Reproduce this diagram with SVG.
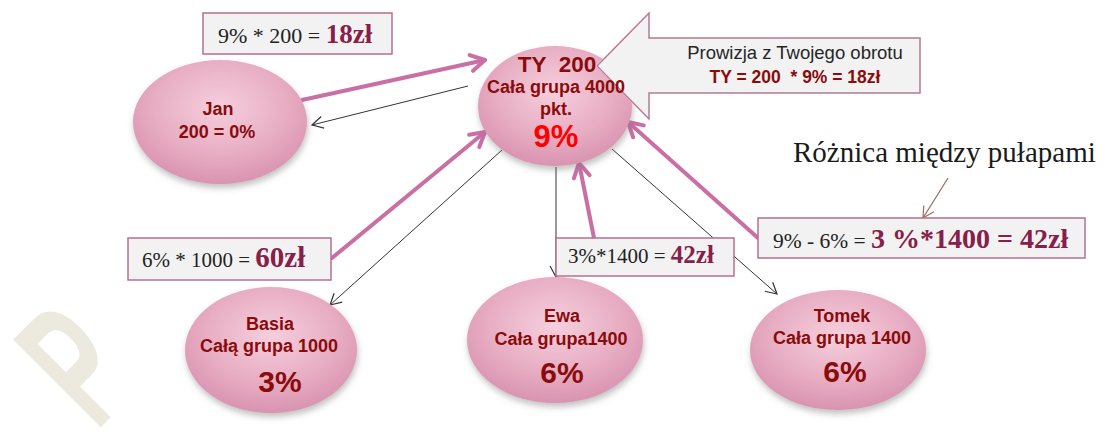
<svg xmlns="http://www.w3.org/2000/svg" width="1110" height="441" viewBox="0 0 1110 441">
<style>
.nt{font-family:"Liberation Sans",Arial,sans-serif;font-weight:bold;fill:#8a0b0b;text-anchor:middle}
.bt{font-family:"Liberation Serif","Times New Roman",serif;fill:#222;}
.bb{font-weight:bold;fill:#86204a}
.box{fill:#f2f2f2;stroke:#b5708f;stroke-width:1.5}
.pk{fill:none;stroke:#c96fa3;stroke-width:4;stroke-linecap:round}
.bk{fill:none;stroke:#333;stroke-width:1}
.ell{fill:url(#eg);filter:url(#sh)}
</style>
<defs>
<radialGradient id="eg" cx="50%" cy="38%" r="62%">
<stop offset="0" stop-color="#f5cfdd"/>
<stop offset="0.6" stop-color="#e8aec3"/>
<stop offset="1" stop-color="#d993b0"/>
</radialGradient>
<filter id="sh" x="-20%" y="-20%" width="140%" height="150%">
<feDropShadow dx="1" dy="4" stdDeviation="3" flood-color="#777" flood-opacity="0.45"/>
</filter>
<marker id="pa" viewBox="0 0 20 20" refX="18" refY="10" markerWidth="20" markerHeight="20" markerUnits="userSpaceOnUse" orient="auto" overflow="visible">
<path d="M4,2 L18,10 L4,18" fill="none" stroke="#c96fa3" stroke-width="4" stroke-linecap="round" stroke-linejoin="round"/>
</marker>
<marker id="ba" viewBox="0 0 14 14" refX="13" refY="7" markerWidth="14" markerHeight="14" markerUnits="userSpaceOnUse" orient="auto" overflow="visible">
<path d="M2,1 L13,7 L2,13" fill="none" stroke="#333" stroke-width="1.2"/>
</marker>
<marker id="ra" viewBox="0 0 14 14" refX="13" refY="7" markerWidth="14" markerHeight="14" markerUnits="userSpaceOnUse" orient="auto" overflow="visible">
<path d="M2,1 L13,7 L2,13" fill="none" stroke="#9b6b5b" stroke-width="1.2"/>
</marker>
<clipPath id="tyclip">
<path clip-rule="evenodd" d="M0,0 H1110 V441 H0 Z M596,66 L649,12 L649,37 L921,37 L921,94 L649,94 L649,120 Z"/>
</clipPath>
</defs>

<g id="watermark">
<text transform="translate(96 432) rotate(-45) scale(0.55 1)" font-family="Liberation Sans,Arial,sans-serif" font-weight="bold" font-size="180" fill="#ece9df">P</text>
</g>

<g id="connectors">
<line class="pk" x1="302" y1="100" x2="485" y2="60" marker-end="url(#pa)"/>
<line class="pk" x1="332" y1="258" x2="485" y2="132" marker-end="url(#pa)"/>
<line class="pk" x1="594" y1="238" x2="579" y2="163" marker-end="url(#pa)"/>
<line class="pk" x1="758" y1="238" x2="628" y2="122" marker-end="url(#pa)"/>
<line class="bk" x1="468" y1="86" x2="312" y2="125" marker-end="url(#ba)"/>
<line class="bk" x1="502" y1="150" x2="330" y2="305" marker-end="url(#ba)"/>
<line class="bk" x1="556" y1="167" x2="556" y2="277" marker-end="url(#ba)"/>
<line class="bk" x1="612" y1="149" x2="777" y2="294" marker-end="url(#ba)"/>
<line x1="948" y1="178" x2="923" y2="218" stroke="#9b6b5b" stroke-width="1.2" marker-end="url(#ra)"/>
</g>

<g id="node-jan">
<ellipse class="ell" cx="220" cy="122" rx="87" ry="62"/>
<text class="nt" font-size="18" x="218" y="115">Jan</text>
<text class="nt" font-size="18" x="217" y="138">200 = 0%</text>
</g>

<g id="callout-arrow">
<path d="M597,66 L649,13 L649,38 L920,38 L920,93 L649,93 L649,119 Z" fill="#f2f2f2" stroke="#b87893" stroke-width="1.5"/>
<text x="795" y="59" font-family="Liberation Sans,Arial,sans-serif" font-size="18.5" fill="#262626" text-anchor="middle">Prowizja z Twojego obrotu</text>
<text x="795" y="83" font-family="Liberation Sans,Arial,sans-serif" font-size="17.5" font-weight="bold" fill="#8a0b0b" text-anchor="middle" xml:space="preserve">TY = 200  * 9% = 18zł</text>
</g>

<g id="node-ty">
<ellipse class="ell" cx="555" cy="106" rx="77" ry="60" clip-path="url(#tyclip)"/>
<text class="nt" font-size="22.5" x="557" y="72" xml:space="preserve">TY  200</text>
<text class="nt" font-size="18" x="556" y="93">Cała grupa 4000</text>
<text class="nt" font-size="18" x="556" y="115">pkt.</text>
<text class="nt" font-size="31" x="556" y="147" style="fill:#ff0000">9%</text>
</g>

<g id="node-basia">
<ellipse class="ell" cx="271" cy="350" rx="86" ry="63"/>
<text class="nt" font-size="18" x="270" y="330">Basia</text>
<text class="nt" font-size="18" x="269" y="352">Całą grupa 1000</text>
<text class="nt" font-size="30" x="280" y="392">3%</text>
</g>

<g id="node-ewa">
<ellipse class="ell" cx="555" cy="340" rx="88" ry="63"/>
<text class="nt" font-size="18" x="562" y="322">Ewa</text>
<text class="nt" font-size="18" x="561" y="345">Cała grupa1400</text>
<text class="nt" font-size="30" x="562" y="383">6%</text>
</g>

<g id="node-tomek">
<ellipse class="ell" cx="838" cy="350" rx="88" ry="60"/>
<text class="nt" font-size="18" x="842" y="322">Tomek</text>
<text class="nt" font-size="18" x="842" y="344">Cała grupa 1400</text>
<text class="nt" font-size="30" x="845" y="382">6%</text>
</g>

<g id="box-18">
<rect class="box" x="203" y="13" width="189" height="41"/>
<text class="bt" font-size="22" x="218" y="43">9% * 200 = <tspan class="bb" font-size="27">18zł</tspan></text>
</g>

<g id="box-60">
<rect class="box" x="128" y="238" width="203" height="42"/>
<text class="bt" font-size="21" x="142" y="267">6% * 1000 = <tspan class="bb" font-size="29">60zł</tspan></text>
</g>

<g id="box-42">
<rect class="box" x="556" y="238" width="178" height="38"/>
<text class="bt" font-size="21" x="568" y="263">3%*1400 = <tspan class="bb" font-size="25">42zł</tspan></text>
</g>

<g id="box-diff">
<rect class="box" x="758" y="218" width="327" height="40"/>
<text class="bt" font-size="21.5" x="773" y="248">9% - 6% = <tspan class="bb" font-size="28">3 %*1400 = 42zł</tspan></text>
</g>

<g id="label-roznica">
<text x="793" y="162" font-family="Liberation Serif,Times New Roman,serif" font-size="29" fill="#1a1a1a">Różnica między pułapami</text>
</g>
</svg>
